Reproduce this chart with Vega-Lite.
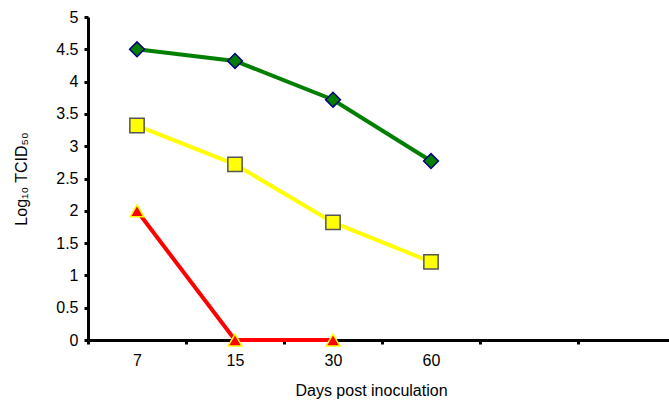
{
  "$schema": "https://vega.github.io/schema/vega-lite/v6.json",
  "width": 581,
  "height": 323,
  "autosize": {"type": "none"},
  "padding": {"left": 88, "top": 17, "right": 0, "bottom": 61},
  "background": "white",
  "config": {
    "view": {"stroke": null},
    "font": "Liberation Sans",
    "axis": {"grid": false, "domainColor": "black", "domainWidth": 3, "tickColor": "black", "tickWidth": 3, "tickSize": 4, "labelColor": "black", "titleColor": "black", "labelFont": "Liberation Sans", "titleFont": "Liberation Sans", "titleFontWeight": "normal", "labelFontSize": 16, "titleFontSize": 16}
  },
  "data": {
    "values": [
      {"series": "A", "day": "7", "value": 4.5},
      {"series": "A", "day": "15", "value": 4.32},
      {"series": "A", "day": "30", "value": 3.72},
      {"series": "A", "day": "60", "value": 2.77},
      {"series": "B", "day": "7", "value": 3.32},
      {"series": "B", "day": "15", "value": 2.72},
      {"series": "B", "day": "30", "value": 1.82},
      {"series": "B", "day": "60", "value": 1.21},
      {"series": "C", "day": "7", "value": 2.0},
      {"series": "C", "day": "15", "value": 0},
      {"series": "C", "day": "30", "value": 0}
    ]
  },
  "encoding": {
    "x": {
      "field": "day", "type": "nominal", "sort": null,
      "scale": {"domain": ["7", "15", "30", "60", "e1", "e2"], "paddingInner": 0, "paddingOuter": 0, "range": [0, 588]},
      "axis": {"title": "Days post inoculation", "labelAngle": 0, "tickBand": "extent", "labelPadding": 8, "titlePadding": 14, "titleX": 283, "labelExpr": "indexof(['7','15','30','60'], datum.label) >= 0 ? datum.label : ''"}
    },
    "y": {
      "field": "value", "type": "quantitative",
      "scale": {"domain": [0, 5], "nice": false},
      "axis": {"title": "Log₁₀ TCID₅₀", "format": "~g", "values": [0, 0.5, 1, 1.5, 2, 2.5, 3, 3.5, 4, 4.5, 5], "labelPadding": 6, "titlePadding": 26, "labelFlush": false}
    }
  },
  "layer": [
    {
      "mark": {"type": "line", "strokeWidth": 4},
      "encoding": {
        "color": {"field": "series", "type": "nominal", "scale": {"domain": ["A", "B", "C"], "range": ["#007F00", "#FFFF00", "#FF0000"]}, "legend": null}
      }
    },
    {
      "mark": {"type": "point", "filled": true, "opacity": 1, "strokeWidth": 1.5},
      "encoding": {
        "shape": {"field": "series", "type": "nominal", "scale": {"domain": ["A", "B", "C"], "range": ["diamond", "square", "triangle-up"]}, "legend": null},
        "fill": {"field": "series", "type": "nominal", "scale": {"domain": ["A", "B", "C"], "range": ["#007F00", "#FFFF00", "#FF0000"]}, "legend": null},
        "stroke": {"field": "series", "type": "nominal", "scale": {"domain": ["A", "B", "C"], "range": ["#000080", "#555555", "#FFFF00"]}, "legend": null},
        "size": {"field": "series", "type": "nominal", "scale": {"domain": ["A", "B", "C"], "range": [220, 190, 230]}, "legend": null}
      }
    }
  ]
}
